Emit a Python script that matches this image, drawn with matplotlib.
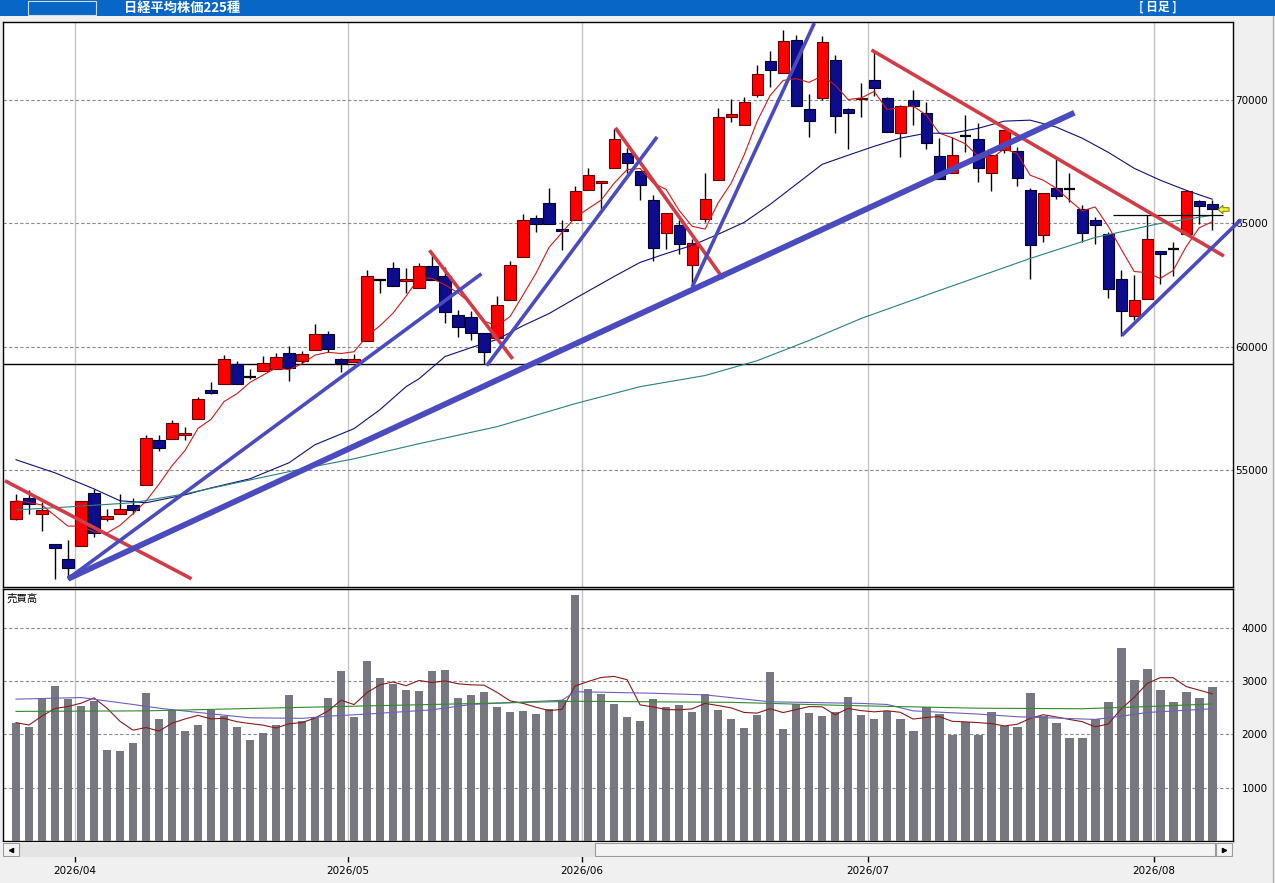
import numpy as np
import pandas as pd
import matplotlib
matplotlib.use('Agg')
import matplotlib.pyplot as plt
from matplotlib.patches import Rectangle
from matplotlib.path import Path

JP = ['Noto Sans CJK JP', 'DejaVu Sans']

# ---- data ----
holidays = ['2026-04-29', '2026-05-04', '2026-05-05', '2026-05-06', '2026-07-20']
dates = pd.bdate_range('2026-03-25', '2026-08-07', freq='C', holidays=holidays)

opens = [53030, 53870, 53240, 52020, 51390, 51930, 54070, 53040, 53220, 53590,
         54390, 56220, 56260, 56420, 57070, 58250, 58490, 59300, 58790, 59000,
         59100, 59760, 59430, 59870, 60520, 59480, 59370, 60220, 62680, 63190,
         62640, 62380, 63280, 62870, 61290, 61220, 60560, 60360, 61900, 63620,
         65220, 65810, 64780, 65140, 66330, 66640, 67230, 67860, 67100, 65950,
         64610, 64940, 63320, 65180, 66760, 69280, 68990, 70170, 71560, 71060,
         72410, 69620, 70050, 71600, 69620, 70030, 70790, 70050, 68670, 69980,
         69440, 67710, 67030, 68530, 68390, 67010, 67950, 67910, 66330, 64530,
         66440, 66400, 65590, 65140, 64550, 62750, 61260, 61940, 63860, 63960,
         64570, 65880, 65760]
highs = [54040, 54190, 53690, 52020, 52160, 53760, 54230, 53420, 54030, 53890,
         56430, 56430, 57030, 56730, 57970, 58550, 59680, 59410, 59100, 59640,
         59730, 60040, 59840, 60900, 60650, 59540, 59710, 63090, 62710, 63410,
         63190, 63380, 63760, 63220, 61490, 61460, 60560, 62070, 63450, 65390,
         65320, 66440, 65140, 66490, 67230, 66720, 68830, 68050, 67100, 66130,
         65430, 65110, 64340, 67050, 69670, 70020, 70110, 71400, 71970, 72820,
         72620, 70220, 72580, 71810, 69660, 70680, 71940, 70100, 69780, 70390,
         69910, 68430, 68470, 69370, 69060, 67750, 68760, 68090, 66440, 66240,
         67580, 67010, 65720, 65250, 64640, 63110, 62910, 65320, 63860, 64230,
         66330, 65950, 65920]
lows = [53000, 53220, 52540, 50600, 50600, 51930, 52300, 52950, 53220, 53220,
        54390, 55780, 56260, 56230, 57070, 58080, 58490, 58490, 58690, 59000,
        59100, 58620, 59300, 59870, 59770, 58960, 59370, 60220, 62160, 62440,
        62160, 62380, 62680, 60950, 60380, 60250, 59300, 60360, 61900, 63620,
        64640, 64980, 63920, 65140, 66330, 65590, 67230, 67010, 65920, 63450,
        63970, 63760, 62480, 65040, 66760, 69100, 68990, 70110, 70520, 71060,
        69750, 68490, 70000, 68650, 68020, 69300, 70140, 68690, 67660, 68970,
        68020, 66800, 67030, 67880, 66670, 66300, 67850, 66490, 62750, 64230,
        65990, 65860, 64230, 64170, 61980, 60450, 61060, 61940, 62550, 62880,
        64570, 64980, 64710]
closes = [53760, 53620, 53380, 51860, 51050, 53760, 52450, 53150, 53420, 53400,
          56300, 55890, 56890, 56500, 57880, 58110, 59500, 58490, 58790, 59340,
          59570, 59140, 59710, 60520, 59910, 59330, 59500, 62840, 62680, 62440,
          62750, 63260, 62680, 61390, 60790, 60540, 59770, 61690, 63320, 65140,
          64980, 64980, 64700, 66320, 66940, 66720, 68400, 67450, 66560, 63990,
          65430, 64170, 64210, 65990, 69300, 69400, 69890, 71040, 71200, 72370,
          69750, 69140, 72350, 69340, 69440, 70070, 70460, 68690, 69740, 69740,
          68260, 66800, 67750, 68530, 67230, 67750, 68760, 66830, 64130, 66240,
          66100, 66400, 64600, 64940, 62340, 61460, 61870, 64370, 63760, 63960,
          66290, 65680, 65590]
volumes = [2220, 2130, 2680, 2910, 2670, 2530, 2630, 1710, 1680, 1840,
           2780, 2290, 2460, 2070, 2180, 2450, 2340, 2140, 1900, 2030,
           2180, 2740, 2250, 2330, 2690, 3190, 2330, 3380, 3060, 2950,
           2840, 2820, 3190, 3210, 2680, 2740, 2790, 2510, 2420, 2440,
           2380, 2470, 2640, 4610, 2850, 2760, 2570, 2330, 2250, 2660,
           2510, 2550, 2420, 2760, 2460, 2290, 2120, 2360, 3170, 2100,
           2570, 2400, 2340, 2420, 2700, 2360, 2290, 2440, 2280, 2060,
           2510, 2380, 1990, 2230, 1990, 2420, 2160, 2140, 2780, 2340,
           2210, 1930, 1930, 2290, 2610, 3620, 3020, 3230, 2830, 2610,
           2790, 2680, 2890]

# longer moving averages, read at sample days
ma25_idx = [0, 3, 6, 8, 10, 13, 15, 18, 21, 23, 26, 28, 30, 31, 33, 35, 37, 39, 41, 43, 46, 48,
            50, 52, 54, 56, 58, 60, 62, 64, 66, 68, 70, 72, 74, 76, 78, 80, 82, 84, 86, 88, 90, 92]
ma25_val = [55420, 54890, 54240, 53760, 53680, 54000, 54280, 54650, 55300, 56030, 56680,
            57450, 58380, 58700, 59600, 59960, 60290, 60850, 61340, 61950, 62840, 63410,
            63770, 64100, 64550, 65030, 65760, 66570, 67380, 67750, 68110, 68440, 68640,
            68640, 68840, 69130, 69170, 68890, 68440, 67870, 67220, 66740, 66330, 65970]
ma75_idx = [0, 4, 9, 13, 17, 22, 26, 31, 37, 43, 48, 53, 57, 61, 65, 71, 78, 83, 88, 92]
ma75_val = [53390, 53510, 53680, 54040, 54490, 55050, 55460, 56070, 56760, 57690,
            58380, 58830, 59430, 60250, 61140, 62270, 63570, 64420, 64990, 65320]
vma25_idx = [0, 5, 9, 11, 14, 18, 22, 24, 27, 32, 35, 42, 43, 49, 53, 58, 65, 67, 69,
             74, 77, 83, 85, 87, 92]
vma25_val = [2660, 2690, 2560, 2490, 2410, 2310, 2300, 2340, 2380, 2460, 2560, 2640, 2800,
             2770, 2740, 2610, 2580, 2560, 2440, 2380, 2330, 2280, 2340, 2410, 2480]
vma75_idx = [0, 10, 19, 32, 43, 55, 64, 74, 82, 87, 92]
vma75_val = [2430, 2440, 2490, 2560, 2620, 2600, 2540, 2490, 2480, 2520, 2570]

# hand drawn trend lines (day index, price)
red_lines = [((-0.85, 54570), (13.5, 50600)),
             ((31.8, 63900), (38.2, 59500)),
             ((46.1, 68860), (54.4, 62750)),
             ((65.8, 72010), (92.9, 63670))]
blue_lines = [((4.0, 50600), (35.8, 62950), 2.6),
              ((4.0, 50600), (81.4, 69470), 4.2),
              ((36.2, 59230), (49.3, 68490), 2.6),
              ((52.0, 62410), (61.4, 73100), 2.6),
              ((85.05, 60450), (94.2, 65140), 2.6)]
support_level = 59300
short_level = (84.4, 92.8, 65340)

price_ticks = [55000, 60000, 65000, 70000]
volume_ticks = [1000, 2000, 3000, 4000]

# ---- layout ----
W, H = 1275, 883
fig = plt.figure(figsize=(W / 100, H / 100), dpi=100, facecolor='#f0f0f0')


def px_box(x0, y0, x1, y1):
    return [x0 / W, 1 - y1 / H, (x1 - x0) / W, (y1 - y0) / H]


xs = np.arange(len(closes))
month_no = np.array([d.month for d in dates])
bounds = [i - 0.5 for i in range(1, len(dates)) if month_no[i] != month_no[i - 1]]
bound_labels = [dates[int(b + 0.5)].strftime('%Y/%m') for b in bounds]

bg = fig.add_axes([0, 0, 1, 1], zorder=0)
bg.set_xlim(0, W)
bg.set_ylim(H, 0)
bg.axis('off')
bg.add_patch(Rectangle((0, 0), W, 16, facecolor='#0866c6', edgecolor='none'))
bg.add_patch(Rectangle((28, 0.5), 68, 14, facecolor='none', edgecolor='#c8dcf0', lw=0.8))
bg.text(124, 7.5, '日経平均株価225種', color='white', fontsize=9.5, fontweight='bold',
        va='center', ha='left', family=JP)
bg.text(1158, 7.5, '[ 日足 ]', color='white', fontsize=8.5, fontweight='bold',
        va='center', ha='center', family=JP)
bg.plot([1272.5, 1272.5], [16, H], color='#b0b0b0', lw=1)

# price panel
ax = fig.add_axes(px_box(3, 22, 1233, 587), zorder=3)
ax.set_facecolor('white')
o, h, l, c = map(np.array, (opens, highs, lows, closes))
up, down, flat = c > o, c < o, c == o
ax.vlines(xs, l, h, color='black', lw=1, zorder=3)
ax.bar(xs[up], (c - o)[up], bottom=o[up], width=0.86, color='#ff0000',
       edgecolor='#6a0000', lw=0.8, zorder=4)
ax.bar(xs[down], (o - c)[down], bottom=c[down], width=0.86, color='#0c0c8c',
       edgecolor='#000030', lw=0.8, zorder=4)
ax.hlines(c[flat], xs[flat] - 0.43, xs[flat] + 0.43, color='black', lw=1.6, zorder=4)

ma5 = pd.Series(closes).rolling(5, min_periods=1).mean()
ax.plot(xs, ma5, color='#d01818', lw=0.8, zorder=5)
ax.plot(ma25_idx, ma25_val, color='#10107a', lw=0.8, zorder=5)
ax.plot(ma75_idx, ma75_val, color='#2a8080', lw=0.8, zorder=5)

ax.axhline(support_level, color='black', lw=1, zorder=3)
ax.hlines(short_level[2], short_level[0], short_level[1], color='black', lw=0.9, zorder=5)

for (x0, y0), (x1, y1) in red_lines:
    ax.plot([x0, x1], [y0, y1], color='#d23c46', lw=2.6, solid_capstyle='butt', zorder=6)
for (x0, y0), (x1, y1), lw in blue_lines:
    ax.plot([x0, x1], [y0, y1], color='#4b4bc0', lw=lw, solid_capstyle='butt',
            zorder=6, clip_on=False)

arrow = Path([(-1, 0), (-0.1, 0.75), (-0.1, 0.32), (1, 0.32), (1, -0.32),
              (-0.1, -0.32), (-0.1, -0.75), (-1, 0)])
ax.plot([92.8], [closes[-1]], marker=arrow, ms=8, mfc='#f2f23c', mec='#7a7a00',
        mew=0.7, zorder=7, clip_on=False)

ax.set_xlim(-1.0, 93.6)
ax.set_ylim(50268, 73144)
ax.set_xticks(bounds)
ax.tick_params(axis='x', length=0, labelbottom=False)
ax.xaxis.grid(True, color='#c4c4c4', lw=1, ls='-')
ax.set_yticks(price_ticks)
ax.yaxis.tick_right()
ax.tick_params(axis='y', length=0, pad=25, labelsize=7.5)
for t in ax.get_yticklabels():
    t.set_horizontalalignment('right')
ax.yaxis.grid(True, color='#8c8c8c', lw=0.8, ls=(0, (3, 2)))
ax.set_axisbelow(True)
for s in ax.spines.values():
    s.set_color('black')
    s.set_linewidth(1)

# volume panel
axv = fig.add_axes(px_box(3, 589, 1233, 841), zorder=1)
axv.set_facecolor('white')
axv.bar(xs, volumes, width=0.67, color='#77777f', zorder=3)
vma5 = pd.Series(volumes).rolling(5, min_periods=1).mean()
axv.plot(xs, vma5, color='#8b1a1a', lw=0.8, zorder=4)
axv.plot(vma25_idx, vma25_val, color='#6a60c0', lw=0.8, zorder=4)
axv.plot(vma75_idx, vma75_val, color='#2e8b2e', lw=0.8, zorder=4)
axv.text(0.003, 0.983, '売買高', transform=axv.transAxes, va='top', ha='left',
         fontsize=7.5, family=JP, zorder=5)
axv.set_xlim(-1.0, 93.6)
axv.set_ylim(0, 4725)
axv.set_xticks(bounds)
axv.set_xticklabels(bound_labels)
axv.tick_params(axis='x', direction='out', length=15.1, width=1, pad=3, labelsize=7.5)
axv.xaxis.grid(True, color='#c4c4c4', lw=1, ls='-')
axv.set_yticks(volume_ticks)
axv.yaxis.tick_right()
axv.tick_params(axis='y', length=0, pad=25, labelsize=7.5)
for t in axv.get_yticklabels():
    t.set_horizontalalignment('right')
axv.yaxis.grid(True, color='#8c8c8c', lw=0.8, ls=(0, (3, 2)))
axv.set_axisbelow(True)
for s in axv.spines.values():
    s.set_color('black')
    s.set_linewidth(1)

# scroll bar under the volume panel
sb = fig.add_axes(px_box(3, 842, 1233, 857), zorder=2)
sb.set_xlim(3, 1233)
sb.set_ylim(857, 842)
sb.axis('off')
sb.add_patch(Rectangle((3, 842), 1230, 15, facecolor='#e4e4e4', edgecolor='none'))
sb.add_patch(Rectangle((595, 843), 620, 13, facecolor='#f4f4f4', edgecolor='#9a9a9a', lw=0.8))
sb.add_patch(Rectangle((3.5, 843), 15, 13, facecolor='#f4f4f4', edgecolor='#9a9a9a', lw=0.8))
sb.add_patch(Rectangle((1216, 843), 16, 13, facecolor='#f4f4f4', edgecolor='#9a9a9a', lw=0.8))
sb.plot([10.5], [849.5], marker='<', ms=3, color='black')
sb.plot([1224], [849.5], marker='>', ms=3, color='black')

fig.savefig('out.png', dpi=100, facecolor=fig.get_facecolor())
